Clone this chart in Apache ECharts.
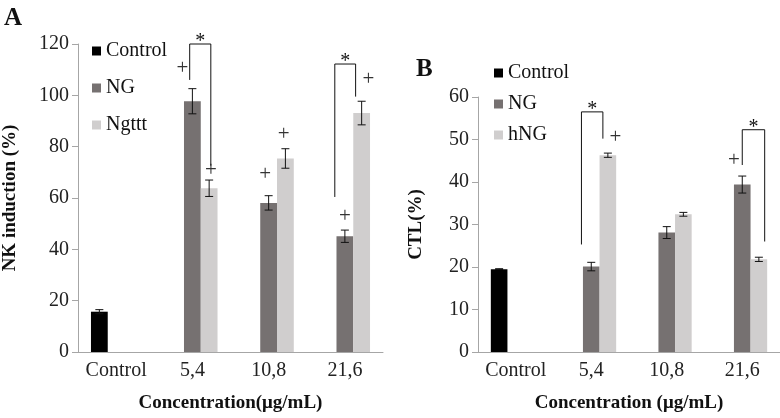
<!DOCTYPE html>
<html>
<head>
<meta charset="utf-8">
<script src="https://cdn.jsdelivr.net/npm/echarts@6/dist/echarts.min.js"></script>
<style>
  html, body { margin: 0; padding: 0; background: #fff; }
  #chart { width: 780px; height: 418px; }
</style>
</head>
<body>
<div id="chart"></div>
<script>
// categories and tick labels
const categories = ["Control", "5,4", "10,8", "21,6"]

// panel A: NK induction (%)
const nkControl = [15.7, null, null, null]
const nkControlErr = [0.8, null, null, null]
const nkNG = [null, 97.7, 58.1, 45.1]
const nkNGErr = [null, 4.9, 2.8, 2.4]
const nkNgttt = [null, 63.8, 75.4, 93.1]
const nkNgtttErr = [null, 3.2, 3.8, 4.6]

// panel B: CTL (%)
const ctlControl = [19.5, null, null, null]
const ctlControlErr = [0.1, null, null, null]
const ctlNG = [null, 20.1, 28.1, 39.4]
const ctlNGErr = [null, 1.0, 1.4, 2.0]
const ctlHNG = [null, 46.3, 32.4, 21.8]
const ctlHNGErr = [null, 0.5, 0.45, 0.5]

// "+" marks: [category, slot, value]
const plusA = [[1, 0.4, 110.4], [1, 2.1, 70.7], [2, 0.8, 69.2], [2, 1.9, 84.8], [3, 1.0, 52.7], [3, 2.4, 106.2]]
const plusB = [[1, 2.45, 50.4], [3, 0.5, 45.0]]

// significance brackets: [category, leftSlot, rightSlot, leftBottom, top, rightBottom]
const bracketsA = [[1, 0.84, 2.1, 106, 120, 72.6], [3, 0.4, 1.64, 60.4, 112.2, 99.5]]
const bracketsB = [[1, 0.41, 1.7, 25.3, 56.5, 50.2], [3, 1.0, 2.35, 44.0, 52.3, 26.0]]

const FONT = "'Liberation Serif', serif"
const GAP = 0.34
const colors = {Control: "#000000", NG: "#767171", light: "#d0cece"}

const chart = echarts.init(document.getElementById("chart"))

function slotX(api, c, slot) {
    const band = api.size([1, 0])[0]
    const sw = band * (1 - GAP) / 3
    return api.coord([c, 0])[0] + (slot - 1) * sw
}

function barSeries(name, vals, color, g) {
    return {
        name, type: "bar", data: vals, xAxisIndex: g, yAxisIndex: g,
        barGap: "0%", barCategoryGap: (GAP * 100) + "%",
        itemStyle: {color}, animation: false
    }
}

function errSeries(vals, errs, slot, g) {
    const data = []
    vals.forEach((v, i) => { if (v != null) data.push([i, v, errs[i]]) })
    return {
        type: "custom", xAxisIndex: g, yAxisIndex: g, z: 5, silent: true,
        data, animation: false,
        renderItem(params, api) {
            const c = api.value(0), v = api.value(1), e = api.value(2)
            const x = slotX(api, c, slot)
            const yHi = api.coord([c, v + e])[1], yLo = api.coord([c, v - e])[1]
            const st = {stroke: "#111", lineWidth: 1}
            return {type: "group", children: [
                {type: "line", shape: {x1: x, y1: yHi, x2: x, y2: yLo}, style: st},
                {type: "line", shape: {x1: x - 4, y1: yHi, x2: x + 4, y2: yHi}, style: st},
                {type: "line", shape: {x1: x - 4, y1: yLo, x2: x + 4, y2: yLo}, style: st}
            ]}
        }
    }
}

function plusSeries(marks, g) {
    return {
        type: "custom", xAxisIndex: g, yAxisIndex: g, z: 6, silent: true,
        data: marks, animation: false,
        renderItem(params, api) {
            const x = slotX(api, api.value(0), api.value(1))
            const y = api.coord([api.value(0), api.value(2)])[1]
            return {type: "text", x, y, style: {
                text: "+", fontFamily: FONT, fontSize: 21, fill: "#333",
                align: "center", verticalAlign: "middle"
            }}
        }
    }
}

function bracketSeries(marks, g) {
    return {
        type: "custom", xAxisIndex: g, yAxisIndex: g, z: 6, silent: true,
        data: marks, animation: false,
        renderItem(params, api) {
            const c = api.value(0)
            const xl = slotX(api, c, api.value(1)), xr = slotX(api, c, api.value(2))
            const yl = api.coord([c, api.value(3)])[1]
            const yt = api.coord([c, api.value(4)])[1]
            const yr = api.coord([c, api.value(5)])[1]
            return {type: "group", children: [
                {type: "polyline", shape: {points: [[xl, yl], [xl, yt], [xr, yt], [xr, yr]]},
                 style: {stroke: "#111", lineWidth: 1, fill: null}},
                {type: "text", x: (xl + xr) / 2, y: yt + 8, style: {
                    text: "*", fontFamily: FONT, fontSize: 20, fill: "#111",
                    align: "center", verticalAlign: "bottom"
                }}
            ]}
        }
    }
}

const textStyle = {fontFamily: FONT, fontSize: 20, color: "#222"}
const nameStyle = {fontFamily: FONT, fontSize: 19, fontWeight: "bold", color: "#111"}
const axisLineStyle = {lineStyle: {color: "#a6a6a6", width: 1}}

function xAxis(g, name) {
    return {
        type: "category", gridIndex: g, data: categories,
        axisLine: axisLineStyle, axisTick: {show: false},
        axisLabel: {...textStyle, margin: 9, interval: 0},
        name, nameLocation: "middle", nameGap: 42, nameTextStyle: nameStyle
    }
}

function yAxis(g, max, interval, name, gap) {
    return {
        type: "value", gridIndex: g, min: 0, max, interval,
        axisLine: {show: true, ...axisLineStyle},
        axisTick: {show: true, length: 6, lineStyle: {color: "#a6a6a6"}},
        splitLine: {show: false},
        axisLabel: {...textStyle, margin: 9},
        name, nameLocation: "middle", nameRotate: 90, nameGap: gap, nameTextStyle: nameStyle
    }
}

const legendText = {fontFamily: FONT, fontSize: 20, color: "#111"}

const option = {
    animation: false,
    graphic: [
        {type: "text", left: 4, top: 6, style: {text: "A", fontFamily: FONT, fontSize: 25, fontWeight: "bold", fill: "#111"}},
        {type: "text", left: 416, top: 57, style: {text: "B", fontFamily: FONT, fontSize: 25, fontWeight: "bold", fill: "#111"}}
    ],
    legend: [
        {data: ["Control", "NG", "Ngttt"], orient: "vertical", left: 87, top: 36,
         icon: "rect", itemWidth: 9, itemHeight: 9, itemGap: 17, textStyle: legendText,
         selectedMode: false},
        {data: ["Control", "NG", "hNG"], orient: "vertical", left: 489, top: 58,
         icon: "rect", itemWidth: 9, itemHeight: 9, itemGap: 11, textStyle: legendText,
         selectedMode: false}
    ],
    grid: [
        {left: 72, top: 44, width: 311, height: 314},
        {left: 478, top: 97, width: 302, height: 261}
    ],
    xAxis: [xAxis(0, "Concentration(μg/mL)"), xAxis(1, "Concentration (μg/mL)")],
    yAxis: [yAxis(0, 120, 20, "NK induction (%)", 58), yAxis(1, 60, 10, "CTL(%)", 52)],
    series: [
        barSeries("Control", nkControl, colors.Control, 0),
        barSeries("NG", nkNG, colors.NG, 0),
        barSeries("Ngttt", nkNgttt, colors.light, 0),
        errSeries(nkControl, nkControlErr, 0, 0),
        errSeries(nkNG, nkNGErr, 1, 0),
        errSeries(nkNgttt, nkNgtttErr, 2, 0),
        plusSeries(plusA, 0),
        bracketSeries(bracketsA, 0),

        barSeries("Control", ctlControl, colors.Control, 1),
        barSeries("NG", ctlNG, colors.NG, 1),
        barSeries("hNG", ctlHNG, colors.light, 1),
        errSeries(ctlControl, ctlControlErr, 0, 1),
        errSeries(ctlNG, ctlNGErr, 1, 1),
        errSeries(ctlHNG, ctlHNGErr, 2, 1),
        plusSeries(plusB, 1),
        bracketSeries(bracketsB, 1)
    ]
}

chart.setOption(option)
</script>
</body>
</html>
